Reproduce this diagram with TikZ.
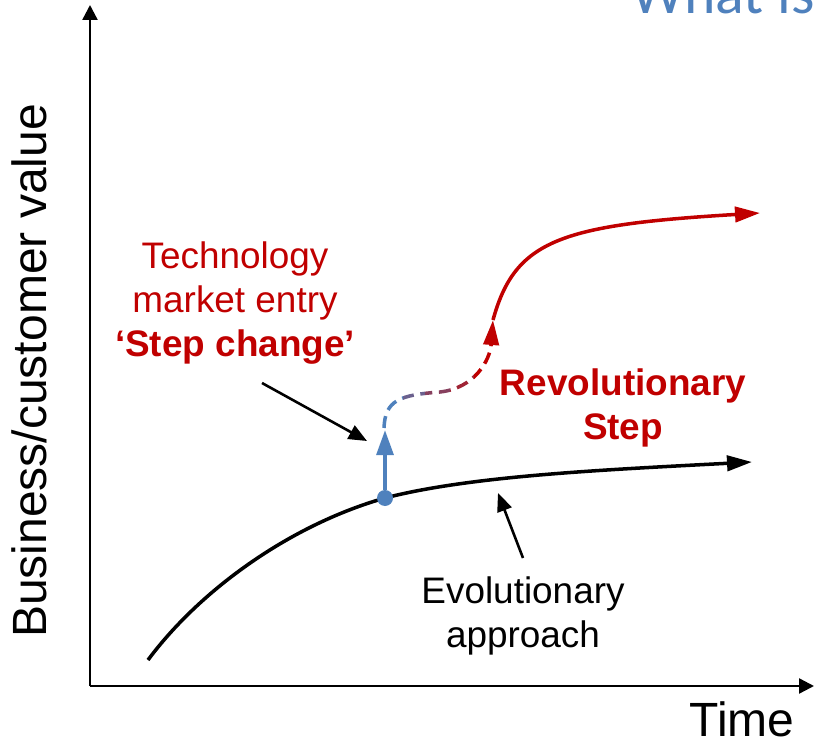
\documentclass[tikz,border=0pt]{standalone}
\usepackage{fontspec}
\setmainfont{Liberation Sans}
\setsansfont{Liberation Sans}
\newfontfamily\titlefont{Carlito}
\usepackage{xcolor}
\usetikzlibrary{calc, positioning}
\usetikzlibrary{arrows.meta}
\definecolor{slideblue}{RGB}{79,129,189}
\definecolor{stepred}{RGB}{192,0,0}

\begin{document}
\begin{tikzpicture}[x=0.03cm, y=-0.03cm, >={Triangle[length=0.75cm, width=0.46cm]}, font=\sffamily]
		\tikzstyle{axis}=[draw=black, line width=2pt, -{Triangle[length=0.45cm, width=0.45cm]}]
		\tikzstyle{curve}=[line width=3pt, ->]
		\tikzstyle{pointer}=[draw=black, line width=2.2pt, -{Triangle[length=0.55cm, width=0.45cm]}]
		\tikzstyle{leap}=[line width=3pt, dash pattern=on 0.36cm off 0.2cm, ->]
		\tikzstyle{label}=[align=center, inner sep=0pt, font=\fontsize{31.5}{37.5}\selectfont]
		
		\useasboundingbox (0,0) rectangle (815,741);
		
		\node[anchor=base west, inner sep=0pt, text=slideblue, font=\titlefont\fontsize{51}{60}\selectfont] (title) at (631,14) {What is};
		
		\coordinate (origin) at (90,686);
		\coordinate (ytop) at (90,5);
		\coordinate (xend) at (814,686);
		\draw[axis] (origin) -- (ytop);
		\draw[axis] (origin) -- (xend);
		
		\node[rotate=90, inner sep=0pt, font=\fontsize{41}{46}\selectfont] (ylabel) at (29,371) {Business/customer value};
		\node[inner sep=0pt, font=\fontsize{41}{46}\selectfont] (xlabel) at (742,719) {Time};
		
		\coordinate (evostart) at (148,660);
		\coordinate (evoend) at (752,462);
		\draw[curve, black] (evostart) .. controls (200,590) and (290,525) .. (385,498) .. controls (470,476) and (600,470) .. (evoend);
		
		\node[circle, fill=slideblue, minimum size=0.48cm, inner sep=0pt] (entry) at (385,498) {};
		\coordinate (jump) at (385,430);
		\coordinate (landing) at (493,320);
		\coordinate (revend) at (760,213);
		
		\draw[line width=3.4pt, slideblue, -{Triangle[length=0.75cm, width=0.5cm]}] (entry) -- (jump);
		
		\foreach \lo/\hi/\col in {0/403/slideblue, 403/425/slideblue!75!stepred, 425/450/slideblue!50!stepred, 450/474/slideblue!28!stepred, 474/815/stepred}
		{
			\begin{scope}
				\clip (\lo,0) rectangle (\hi,741);
				\draw[leap, draw=\col] (384,428) .. controls (385,400) and (400,395) .. (440,392) .. controls (475,388) and (490,360) .. (landing);
			\end{scope}
		}
		
		\draw[curve, stepred] (landing) .. controls (515,240) and (560,225) .. (revend);
		
		\node[label, text=stepred] (entrytext) at (235,303) {Technology\\market entry\\\textbf{‘Step change’}};
		\node[label, text=stepred, font=\bfseries\fontsize{31.5}{37.5}\selectfont] (revtext) at (623,408) {Revolutionary\\Step};
		\node[label] (evotext) at (523,616) {Evolutionary\\approach};
		
		\coordinate (ptrA) at (262,383);
		\coordinate (ptrAtip) at (367,441);
		\coordinate (ptrB) at (523,558);
		\coordinate (ptrBtip) at (498,493);
		\draw[pointer] (ptrA) -- (ptrAtip);
		\draw[pointer] (ptrB) -- (ptrBtip);
		\end{tikzpicture}
\end{document}
